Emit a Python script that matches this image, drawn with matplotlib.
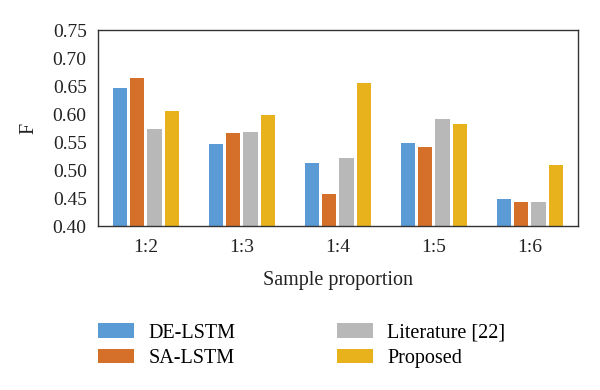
import numpy as np
import matplotlib
matplotlib.use('Agg')
import matplotlib.pyplot as plt

plt.rcParams['font.family'] = ['Liberation Serif', 'DejaVu Serif']

categories = ['1:2', '1:3', '1:4', '1:5', '1:6']
series_names = ['DE-LSTM', 'SA-LSTM', 'Literature [22]', 'Proposed']
de_lstm = [0.647, 0.546, 0.512, 0.549, 0.449]
sa_lstm = [0.665, 0.566, 0.457, 0.542, 0.443]
literature = [0.574, 0.568, 0.521, 0.592, 0.444]
proposed = [0.605, 0.599, 0.656, 0.583, 0.510]
colors = ['#5B9BD5', '#D5702A', '#B8B8B8', '#E8B21C']

fig = plt.figure(figsize=(6, 3.9), dpi=100)
ax = fig.add_axes([0.163, 0.42, 0.8, 0.503])

x = np.arange(len(categories))
step = 0.18
width = 0.15
for i, (vals, name) in enumerate(zip([de_lstm, sa_lstm, literature, proposed], series_names)):
    ax.bar(x + (i - 1.5) * step, np.array(vals) - 0.40, width, bottom=0.40,
           color=colors[i], label=name)

ax.set_xlim(-0.5, len(categories) - 0.5)
ax.set_ylim(0.40, 0.75)
ax.set_yticks(np.arange(0.40, 0.751, 0.05))
ax.set_yticklabels(['%.2f' % v for v in np.arange(0.40, 0.751, 0.05)])
ax.set_xticks(x)
ax.set_xticklabels(categories)
ax.tick_params(length=0, labelsize=14, colors='#222222')
ax.tick_params(axis='y', pad=8)
ax.tick_params(axis='x', pad=9)
ax.set_ylabel('F', fontsize=14.5, color='#222222', labelpad=10)
ax.set_xlabel('Sample proportion', fontsize=14.5, color='#222222', labelpad=11)
for s in ax.spines.values():
    s.set_color('#333333')
    s.set_linewidth(1.0)

fig.legend(loc='upper left', bbox_to_anchor=(0.133, 0.218), ncol=2, frameon=False,
           fontsize=14.5, handlelength=1.8, handleheight=0.75, handletextpad=0.7,
           columnspacing=5.05, labelspacing=0.3)

fig.savefig('out.png', dpi=100)
